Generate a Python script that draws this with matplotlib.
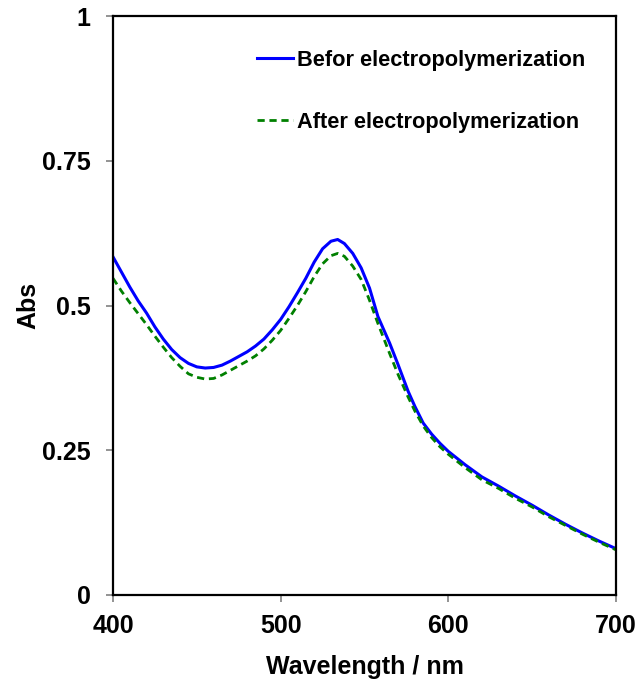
import matplotlib
matplotlib.use("Agg")
import matplotlib.pyplot as plt
import numpy as np

plt.rcParams['font.family'] = ['Liberation Sans', 'DejaVu Sans']
plt.rcParams['font.weight'] = 'bold'

wavelength = [400, 405, 410, 415, 420, 425, 430, 435, 440, 445, 450, 455, 460, 465,
              470, 475, 480, 485, 490, 495, 500, 505, 510, 515, 520, 525, 530, 534,
              538, 543, 548, 553, 558, 565, 570, 576, 580, 585, 590, 595, 600, 610,
              620, 630, 640, 650, 660, 670, 680, 690, 700]
before = [0.584, 0.558, 0.532, 0.508, 0.487, 0.463, 0.442, 0.424, 0.410, 0.400, 0.394,
          0.392, 0.393, 0.397, 0.404, 0.412, 0.420, 0.430, 0.442, 0.458, 0.476, 0.498,
          0.522, 0.547, 0.575, 0.598, 0.611, 0.614, 0.607, 0.590, 0.565, 0.530, 0.481,
          0.435, 0.398, 0.352, 0.326, 0.297, 0.278, 0.262, 0.248, 0.225, 0.204, 0.188,
          0.171, 0.155, 0.138, 0.122, 0.107, 0.093, 0.080]
after = [0.547, 0.525, 0.505, 0.486, 0.467, 0.447, 0.428, 0.410, 0.395, 0.382, 0.376,
         0.373, 0.374, 0.380, 0.388, 0.396, 0.404, 0.413, 0.425, 0.440, 0.457, 0.478,
         0.500, 0.524, 0.550, 0.572, 0.586, 0.590, 0.585, 0.568, 0.545, 0.509, 0.469,
         0.417, 0.381, 0.342, 0.318, 0.292, 0.272, 0.256, 0.243, 0.220, 0.199, 0.184,
         0.167, 0.152, 0.135, 0.120, 0.105, 0.091, 0.078]

xticks = [400, 500, 600, 700]
yticks = [0, 0.25, 0.5, 0.75, 1]
ytick_labels = ['0', '0.25', '0.5', '0.75', '1']

fig = plt.figure(figsize=(6.41, 6.88), dpi=100)
ax = fig.add_axes([113/641, 1-595/688, (616-113)/641, (595-16)/688])

ax.plot(wavelength, before, color='#0000FF', lw=2.2, label='Befor electropolymerization')
ax.plot(wavelength, after, color='#008000', lw=2.0, ls=(0, (2.6, 1.7)),
        label='After electropolymerization')

ax.set_xlim(400, 700)
ax.set_ylim(0, 1)
ax.set_xticks(xticks)
ax.set_yticks(yticks)
ax.set_yticklabels(ytick_labels)
ax.tick_params(axis='both', direction='out', length=5, width=1.2, color='#808080',
               labelsize=18)
ax.tick_params(axis='y', pad=11)
ax.tick_params(axis='x', pad=9)
for s in ax.spines.values():
    s.set_linewidth(1.6)
    s.set_color('black')

ax.set_xlabel('Wavelength / nm', fontsize=18, fontweight='bold', labelpad=12)
ax.set_ylabel('Abs', fontsize=18, fontweight='bold', labelpad=1)

leg = ax.legend(loc='upper left', bbox_to_anchor=((257-113)/503, (595-50)/579),
                frameon=False, fontsize=15.7, handlelength=1.65, handletextpad=0.18,
                labelspacing=1.88, borderpad=0, borderaxespad=0)
for t in leg.get_texts():
    t.set_fontweight('bold')

fig.savefig('out.png', dpi=100)
